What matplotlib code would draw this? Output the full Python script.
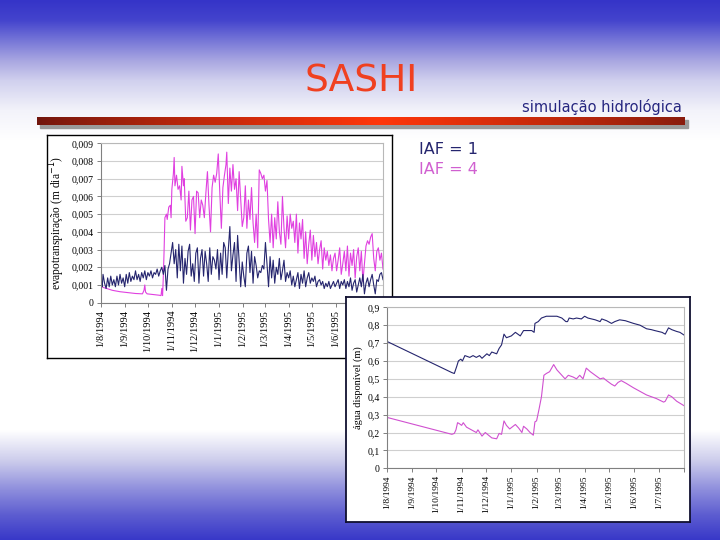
import numpy as np
import matplotlib
matplotlib.use("Agg")
import matplotlib.pyplot as plt
from matplotlib.patches import Rectangle
import datetime as dt

# ---------------- data ----------------
start_date = dt.date(1994, 8, 1)

# Chart 1: evapotranspiration (m/day), IAF = 4 (magenta)
et4_days = [0, 2, 4, 8, 15, 25, 35, 45, 54, 56, 57, 58, 60, 70, 76, 78, 79, 80, 81, 82, 83, 85, 86, 88,
            90, 91, 92, 94, 95, 96, 98, 100, 102, 104, 105, 107, 108, 110, 112, 114, 116, 118, 120, 122,
            124, 126, 128, 130, 132, 134, 136, 138, 140, 142, 144, 146, 148, 150, 152, 154, 156, 158,
            160, 162, 163, 165, 167, 169, 171, 173, 175, 177, 179, 181, 183, 185, 187, 189, 191, 193,
            195, 197, 199, 201, 203, 205, 207, 209, 211, 213, 215, 217, 219, 221, 223, 225, 227, 229,
            231, 233, 235, 237, 239, 241, 243, 245, 247, 249, 251, 253, 255, 257, 259, 261, 263, 265,
            267, 269, 271, 273, 275, 277, 279, 281, 283, 285, 287, 289, 291, 293, 295, 297, 299, 301,
            303, 305, 307, 309, 311, 313, 315, 317, 319, 321, 323, 325, 327, 329, 331, 333, 335, 337,
            339, 341, 343, 345, 347, 349, 351, 353, 355, 357, 359, 361, 363, 365]
et4_vals = [0.0012, 0.0009, 0.00085, 0.0008, 0.0007, 0.00062, 0.00057, 0.00052, 0.0005, 0.0007, 0.001,
            0.0006, 0.0005, 0.00045, 0.00042, 0.0004, 0.0008, 0.0004, 0.0015, 0.003, 0.0048, 0.005,
            0.0047, 0.0054, 0.0055, 0.0048, 0.0064, 0.0073, 0.0082, 0.0066, 0.0072, 0.0064, 0.0066,
            0.0058, 0.0077, 0.0066, 0.007, 0.0046, 0.0048, 0.0063, 0.0041, 0.0058, 0.006, 0.0039,
            0.0063, 0.0062, 0.0048, 0.0058, 0.0055, 0.0048, 0.0062, 0.0074, 0.0055, 0.004, 0.0065,
            0.0072, 0.0068, 0.0073, 0.0084, 0.0062, 0.0042, 0.0065, 0.0072, 0.0078, 0.0085, 0.0056,
            0.0076, 0.0063, 0.0078, 0.0064, 0.007, 0.0052, 0.0074, 0.0058, 0.0043, 0.0048, 0.0066,
            0.0042, 0.0058, 0.0047, 0.0065, 0.0045, 0.0034, 0.005, 0.0031, 0.0075, 0.0073, 0.007,
            0.0072, 0.0063, 0.0069, 0.0047, 0.0034, 0.005, 0.0031, 0.0048, 0.0036, 0.0057, 0.004,
            0.0033, 0.006, 0.0042, 0.0031, 0.0049, 0.0036, 0.005, 0.0042, 0.0046, 0.0034, 0.005,
            0.0028, 0.0045, 0.0036, 0.0047, 0.0025, 0.004, 0.0022, 0.0033, 0.0041, 0.0024, 0.0038,
            0.0026, 0.0034, 0.0022, 0.003, 0.0035, 0.0019, 0.0031, 0.0024, 0.0029, 0.0021, 0.0027,
            0.0018, 0.0025, 0.0028, 0.0018, 0.0024, 0.0031, 0.0016, 0.0022, 0.0029, 0.0018, 0.0032,
            0.0015, 0.0028, 0.0021, 0.003, 0.0014, 0.0026, 0.0031, 0.0018, 0.0029, 0.0012, 0.0022,
            0.0032, 0.0035, 0.0033, 0.0037, 0.0039, 0.0025, 0.0018, 0.0029, 0.0031, 0.0024, 0.0028,
            0.0019]

# Chart 1: evapotranspiration (m/day), IAF = 1 (navy)
et1_days = [0, 1, 2, 3] + list(range(5, 366, 2))
et1_vals = [0.0018, 0.0012, 0.0009, 0.0016, 0.0011, 0.0008, 0.0014, 0.0009, 0.0015, 0.001, 0.0013,
            0.0009, 0.0015, 0.001, 0.0016, 0.0011, 0.0014, 0.0009, 0.0016, 0.0011, 0.0017, 0.0012,
            0.0015, 0.0013, 0.0018, 0.0013, 0.0016, 0.0012, 0.0017, 0.0014, 0.0018, 0.0013, 0.0017,
            0.0015, 0.0018, 0.0014, 0.0017, 0.0016, 0.0019, 0.0015, 0.0018, 0.002, 0.0016, 0.0021,
            0.0007, 0.0019, 0.0022, 0.0028, 0.0034, 0.0022, 0.003, 0.0014, 0.0033, 0.0018, 0.0032,
            0.0011, 0.0025, 0.0016, 0.0029, 0.0033, 0.0015, 0.0022, 0.0012, 0.0028, 0.0031, 0.0011,
            0.0025, 0.003, 0.0015, 0.0029, 0.0022, 0.0012, 0.0031, 0.0016, 0.0026, 0.0024, 0.0019,
            0.003, 0.0013, 0.0028, 0.0016, 0.0034, 0.0031, 0.0014, 0.003, 0.0043, 0.0018, 0.0027,
            0.0034, 0.0012, 0.0038, 0.0024, 0.0009, 0.0023, 0.0015, 0.0009, 0.0028, 0.0032, 0.0017,
            0.0029, 0.0011, 0.0026, 0.0021, 0.0014, 0.0018, 0.0017, 0.0021, 0.0019, 0.0034, 0.0022,
            0.0009, 0.0026, 0.0014, 0.0024, 0.0011, 0.002, 0.0016, 0.0025, 0.0013, 0.0018, 0.0024,
            0.0012, 0.0017, 0.0014, 0.0018, 0.001, 0.0015, 0.0009, 0.0013, 0.0017, 0.0008, 0.0016,
            0.0011, 0.0018, 0.0009, 0.0014, 0.0017, 0.0011, 0.0014, 0.0012, 0.0015, 0.0009, 0.0012,
            0.0013, 0.001, 0.0012, 0.0008, 0.0011, 0.0009, 0.0012, 0.0008, 0.001, 0.0012, 0.0009,
            0.0011, 0.0013, 0.0008, 0.0012, 0.001, 0.0013, 0.0008, 0.0012, 0.0009, 0.0014, 0.0007,
            0.0011, 0.0013, 0.0006, 0.001, 0.0014, 0.0009, 0.0016, 0.0005, 0.0011, 0.0014, 0.0009,
            0.0013, 0.0016, 0.001, 0.0005, 0.0013, 0.0012, 0.0016, 0.0017, 0.0013]

# Chart 2: available water (m), IAF = 1 (navy)
aw1_days = [0, 80, 83, 86, 88, 91, 93, 96, 102, 106, 110, 114, 117, 123, 126, 129, 135, 138, 141, 144,
            147, 153, 158, 164, 168, 178, 181, 182, 186, 190, 196, 209, 215, 220, 222, 224, 229, 233,
            239, 243, 247, 256, 262, 264, 270, 276, 280, 286, 293, 303, 311, 319, 325, 329, 338, 342,
            346, 350, 356, 360, 365]
aw1_vals = [0.71, 0.535, 0.53, 0.57, 0.60, 0.61, 0.60, 0.63, 0.62, 0.63, 0.62, 0.63, 0.615, 0.64, 0.63,
            0.65, 0.64, 0.67, 0.69, 0.75, 0.73, 0.74, 0.76, 0.74, 0.77, 0.77, 0.76, 0.81, 0.82, 0.84,
            0.85, 0.85, 0.84, 0.82, 0.82, 0.84, 0.835, 0.84, 0.835, 0.85, 0.84, 0.83, 0.82, 0.835,
            0.825, 0.81, 0.82, 0.83, 0.825, 0.81, 0.80, 0.78, 0.775, 0.77, 0.76, 0.75, 0.785, 0.775,
            0.765, 0.76, 0.745]

# Chart 2: available water (m), IAF = 4 (magenta)
aw4_days = [0, 80, 83, 85, 87, 89, 92, 94, 98, 102, 106, 110, 112, 117, 121, 125, 129, 135, 138, 141,
            144, 147, 151, 158, 162, 166, 168, 172, 176, 180, 182, 184, 187, 190, 193, 196, 200, 205,
            209, 213, 219, 223, 229, 233, 237, 241, 245, 250, 256, 262, 266, 270, 276, 280, 284, 288,
            294, 303, 311, 319, 325, 331, 340, 342, 346, 350, 356, 365]
aw4_vals = [0.285, 0.19, 0.195, 0.215, 0.255, 0.25, 0.24, 0.255, 0.23, 0.22, 0.21, 0.20, 0.215, 0.18,
            0.20, 0.185, 0.17, 0.165, 0.195, 0.19, 0.265, 0.24, 0.22, 0.245, 0.225, 0.20, 0.235, 0.22,
            0.20, 0.185, 0.26, 0.265, 0.33, 0.40, 0.52, 0.53, 0.54, 0.58, 0.55, 0.53, 0.50, 0.52, 0.51,
            0.50, 0.52, 0.50, 0.56, 0.54, 0.52, 0.50, 0.505, 0.49, 0.47, 0.46, 0.48, 0.49, 0.475, 0.45,
            0.43, 0.41, 0.40, 0.39, 0.37, 0.375, 0.41, 0.40, 0.375, 0.35]

et_yticks = [0, 0.001, 0.002, 0.003, 0.004, 0.005, 0.006, 0.007, 0.008, 0.009]
et_ylabels = ["0", "0,001", "0,002", "0,003", "0,004", "0,005", "0,006", "0,007", "0,008", "0,009"]
aw_yticks = [0, 0.1, 0.2, 0.3, 0.4, 0.5, 0.6, 0.7, 0.8, 0.9]
aw_ylabels = ["0", "0,1", "0,2", "0,3", "0,4", "0,5", "0,6", "0,7", "0,8", "0,9"]
month_ticks = [dt.date(1994, m, 1) for m in range(8, 13)] + [dt.date(1995, m, 1) for m in range(1, 9)]
month_labels = [f"{d.day}/{d.month}/{d.year}" for d in month_ticks[:-1]] + [""]

title = "SASHI"
subtitle = "simulação hidrológica"
legend_labels = ["IAF = 1", "IAF = 4"]

# ---------------- styling ----------------
NAVY = "#25256e"
MAG = "#e040e0"
MAG2 = "#d050d0"
W, H = 720, 540

def rect(x0, y0, x1, y1):
    return [x0 / W, 1 - y1 / H, (x1 - x0) / W, (y1 - y0) / H]

def to_dates(days):
    return [start_date + dt.timedelta(days=int(d)) for d in days]

fig = plt.figure(figsize=(7.2, 5.4), dpi=100)

# background gradient
bg = fig.add_axes([0, 0, 1, 1], zorder=0)
rows = np.arange(H)
stops_y = [0, 20, 40, 60, 80, 110, 140, 430, 460, 490, 515, 540]
stops_c = np.array([[53, 52, 200], [68, 68, 205], [118, 118, 215], [168, 166, 225], [208, 208, 238],
                    [243, 243, 250], [255, 255, 255], [255, 255, 255], [205, 205, 236],
                    [140, 140, 220], [92, 92, 208], [55, 55, 200]]) / 255.0
grad = np.stack([np.interp(rows, stops_y, stops_c[:, k]) for k in range(3)], axis=1)
bg.imshow(grad[:, None, :], extent=(0, W, H, 0), aspect="auto", interpolation="bilinear")
bg.set_xlim(0, W)
bg.set_ylim(H, 0)
bg.axis("off")

# red title bar with shadow
bg.add_patch(Rectangle((40, 120), 648, 8, color="#9a9a9a", zorder=2))
xs = np.linspace(0, 1, 300)
dark = np.array([112, 22, 14]) / 255.0
bright = np.array([255, 55, 10]) / 255.0
wgt = 1 - np.abs(xs - 0.53) / 0.53
wgt = np.clip(wgt, 0, 1) ** 0.8
bar = dark[None, :] * (1 - wgt[:, None]) + bright[None, :] * wgt[:, None]
bg.imshow(bar[None, :, :], extent=(37, 685, 125, 117), aspect="auto", zorder=3, interpolation="bilinear")
bg.set_xlim(0, W)
bg.set_ylim(H, 0)

bg.text(361, 82, title, color="#f04020", fontsize=27, ha="center", va="center",
        family="DejaVu Sans")
bg.text(682, 107, subtitle, color="#262680", fontsize=10.5, ha="right", va="center",
        family="DejaVu Sans")
bg.text(419, 149, legend_labels[0], color=NAVY, fontsize=11.5, ha="left", va="center",
        family="DejaVu Sans")
bg.text(419, 169, legend_labels[1], color="#d060d0", fontsize=11.5, ha="left", va="center",
        family="DejaVu Sans")

SERIF = "Liberation Serif"

def style_axes(ax, yticks, ylabels, ylim, ylabel, xfs, yfs, lfs):
    ax.set_xlim(start_date, dt.date(1995, 8, 1))
    ax.set_ylim(*ylim)
    ax.set_yticks(yticks)
    ax.set_yticklabels(ylabels, fontsize=yfs, family=SERIF)
    ax.set_xticks(month_ticks)
    ax.set_xticklabels(month_labels, rotation=90, fontsize=xfs, family=SERIF)
    ax.grid(axis="y", color="#cfcfcf", lw=0.8)
    ax.set_axisbelow(True)
    for s in ax.spines.values():
        s.set_color("#b8b8b8")
        s.set_linewidth(0.8)
    ax.spines["left"].set_color("#808080")
    ax.spines["bottom"].set_color("#808080")
    ax.tick_params(axis="both", length=3, width=0.7, color="#808080", pad=2)
    ax.set_ylabel(ylabel, fontsize=lfs, family=SERIF, labelpad=3)

# chart 1 frame
fr1 = fig.add_axes(rect(47, 135, 392, 358), zorder=1)
fr1.set_xticks([]); fr1.set_yticks([])
for s in fr1.spines.values():
    s.set_color("black"); s.set_linewidth(1.0)

ax1 = fig.add_axes(rect(100.7, 143.3, 383, 302.7), zorder=2)
ax1.plot(to_dates(et4_days), et4_vals, color=MAG, lw=0.8)
ax1.plot(to_dates(et1_days), et1_vals, color=NAVY, lw=0.8)
style_axes(ax1, et_yticks, et_ylabels, (0, 0.009), "evapotranspiração (m dia$^{-1}$)", 7.5, 7, 8.3)
ax1.patch.set_alpha(0)

# chart 2 frame
fr2 = fig.add_axes(rect(346, 297, 690, 522), zorder=3)
fr2.set_xticks([]); fr2.set_yticks([])
for s in fr2.spines.values():
    s.set_color("#101030"); s.set_linewidth(1.3)

ax2 = fig.add_axes(rect(386.7, 307.3, 684, 468.3), zorder=4)
ax2.plot(to_dates(aw1_days), aw1_vals, color=NAVY, lw=0.8)
ax2.plot(to_dates(aw4_days), aw4_vals, color=MAG2, lw=0.8)
style_axes(ax2, aw_yticks, aw_ylabels, (0, 0.9), "água disponível (m)", 6.8, 7, 7.5)
ax2.patch.set_alpha(0)

fig.savefig("out.png", dpi=100)
